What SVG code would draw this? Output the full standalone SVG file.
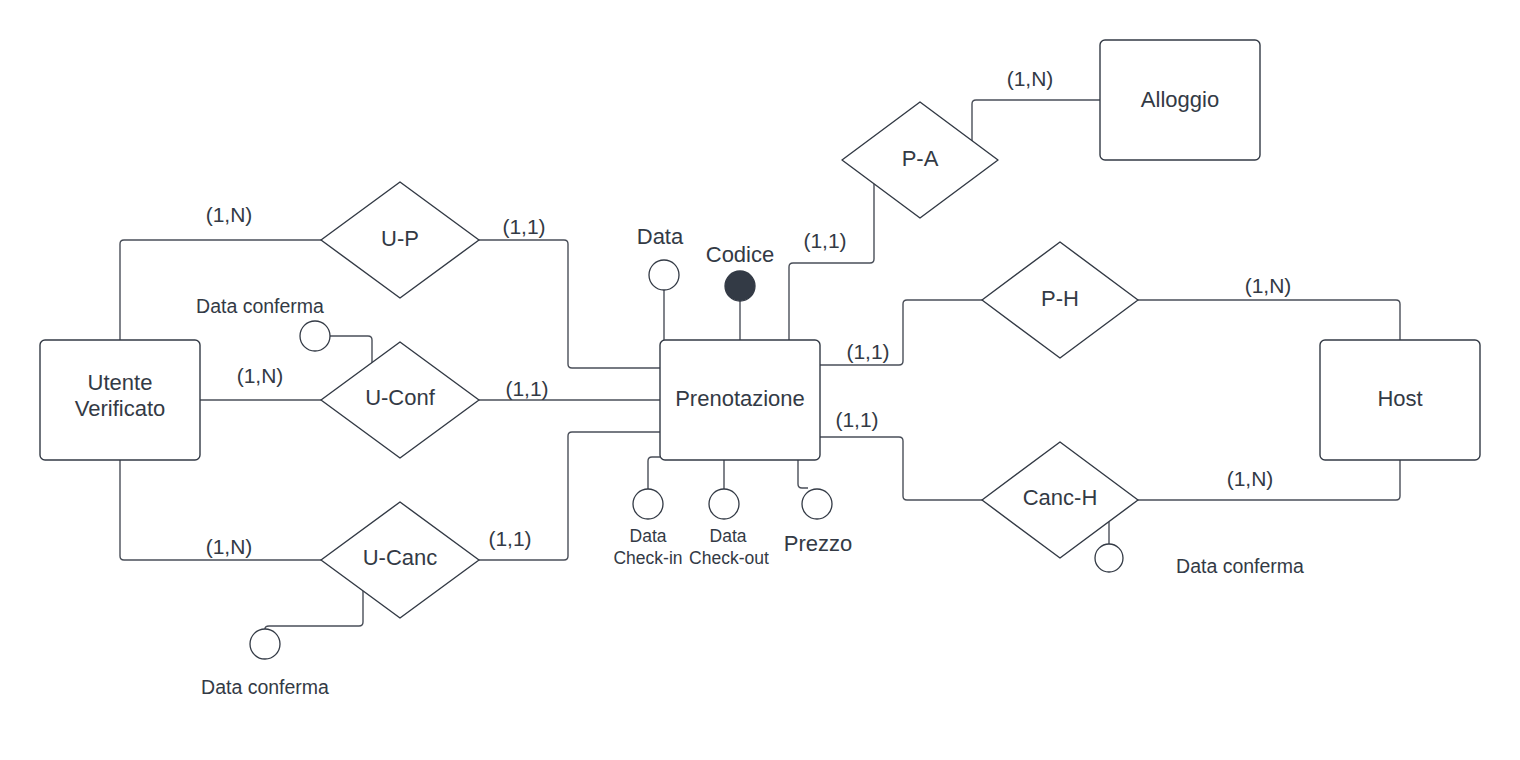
<svg xmlns="http://www.w3.org/2000/svg" width="1520" height="760" viewBox="0 0 1520 760">
<style>
.ent{fill:#ffffff;stroke:#333a45;stroke-width:1.4}
.rel{fill:#ffffff;stroke:#333a45;stroke-width:1.4;stroke-linejoin:round}
.att{fill:#ffffff;stroke:#333a45;stroke-width:1.3}
.key{fill:#333a45;stroke:#333a45;stroke-width:1.3}
.con path{fill:none;stroke:#4a4f59;stroke-width:1.4}
text{font-family:"Liberation Sans",Arial,sans-serif;fill:#333a45;text-anchor:middle}
.lbl{font-size:22px}
.card{font-size:21px}
.att-l{font-size:22px}
.dc{font-size:19.5px}
.sm{font-size:17.5px}
</style>
<rect width="1520" height="760" fill="#ffffff"/>
<g id="connectors" class="con">
<path d="M120,340 V244 Q120,240 124,240 H321"/>
<path d="M479,240 H564 Q568,240 568,244 V364 Q568,368 572,368 H660"/>
<path d="M200,400 H321"/>
<path d="M479,400 H660"/>
<path d="M120,460 V556 Q120,560 124,560 H321"/>
<path d="M479,560 H564 Q568,560 568,556 V436 Q568,432 572,432 H660"/>
<path d="M330,336 H368 Q372,336 372,340 V363"/>
<path d="M363,591 V622 Q363,626 359,626 H269 Q265,626 265,629"/>
<path d="M664,290 V340"/>
<path d="M740,301 V340"/>
<path d="M789,340 V267 Q789,263 793,263 H870 Q874,263 874,259 V184"/>
<path d="M972,141 V104 Q972,100 976,100 H1100"/>
<path d="M820,365 H899 Q903,365 903,361 V304 Q903,300 907,300 H982"/>
<path d="M1138,300 H1396 Q1400,300 1400,304 V340"/>
<path d="M820,437 H899 Q903,437 903,441 V496 Q903,500 907,500 H982"/>
<path d="M1138,500 H1396 Q1400,500 1400,496 V460"/>
<path d="M1109,522 V544"/>
<path d="M648,489 V461 Q648,457 652,457 H660"/>
<path d="M724,460 V489"/>
<path d="M798,460 V484 Q798,488 802,488 H808"/>
</g>
<g id="utente"><rect class="ent" x="40" y="340" width="160" height="120" rx="5"/><text class="lbl" x="120" y="390">Utente</text><text class="lbl" x="120" y="416">Verificato</text></g>
<g id="prenotazione"><rect class="ent" x="660" y="340" width="160" height="120" rx="5"/><text class="lbl" x="740" y="406">Prenotazione</text></g>
<g id="alloggio"><rect class="ent" x="1100" y="40" width="160" height="120" rx="5"/><text class="lbl" x="1180" y="107">Alloggio</text></g>
<g id="host"><rect class="ent" x="1320" y="340" width="160" height="120" rx="5"/><text class="lbl" x="1400" y="406">Host</text></g>
<g id="up"><polygon class="rel" points="321,240 400,182 479,240 400,298"/><text class="lbl" x="400" y="246">U-P</text></g>
<g id="uconf"><polygon class="rel" points="321,400 400,342 479,400 400,458"/><text class="lbl" x="400" y="405">U-Conf</text></g>
<g id="ucanc"><polygon class="rel" points="321,560 400,502 479,560 400,618"/><text class="lbl" x="400" y="565">U-Canc</text></g>
<g id="pa"><polygon class="rel" points="842,160 920,102 998,160 920,218"/><text class="lbl" x="920" y="166">P-A</text></g>
<g id="ph"><polygon class="rel" points="982,300 1060,242 1138,300 1060,358"/><text class="lbl" x="1060" y="306">P-H</text></g>
<g id="canch"><polygon class="rel" points="982,500 1060,442 1138,500 1060,558"/><text class="lbl" x="1060" y="505">Canc-H</text></g>
<g id="attr-uconf"><circle class="att" cx="315" cy="336" r="15"/><text class="dc" x="260" y="313">Data conferma</text></g>
<g id="attr-ucanc"><circle class="att" cx="265" cy="644" r="15"/><text class="dc" x="265" y="694">Data conferma</text></g>
<g id="attr-canch"><circle class="att" cx="1109" cy="558" r="14"/><text class="dc" x="1240" y="573">Data conferma</text></g>
<g id="attr-data"><circle class="att" cx="664" cy="275" r="15"/><text class="att-l" x="660" y="244">Data</text></g>
<g id="attr-codice"><circle class="key" cx="740" cy="286" r="15"/><text class="att-l" x="740" y="262">Codice</text></g>
<g id="attr-checkin"><circle class="att" cx="648" cy="504" r="15"/><text class="sm" x="648" y="542">Data</text><text class="sm" x="648" y="564">Check-in</text></g>
<g id="attr-checkout"><circle class="att" cx="724" cy="504" r="15"/><text class="sm" x="728" y="542">Data</text><text class="sm" x="729" y="564">Check-out</text></g>
<g id="attr-prezzo"><circle class="att" cx="817" cy="504" r="15"/><text class="att-l" x="818" y="551">Prezzo</text></g>
<g id="cardinalities">
<text class="card" x="229" y="222">(1,N)</text>
<text class="card" x="524" y="234">(1,1)</text>
<text class="card" x="260" y="383">(1,N)</text>
<text class="card" x="527" y="396">(1,1)</text>
<text class="card" x="229" y="554">(1,N)</text>
<text class="card" x="510" y="546">(1,1)</text>
<text class="card" x="825" y="248">(1,1)</text>
<text class="card" x="1030" y="86">(1,N)</text>
<text class="card" x="868" y="359">(1,1)</text>
<text class="card" x="1268" y="293">(1,N)</text>
<text class="card" x="857" y="427">(1,1)</text>
<text class="card" x="1250" y="486">(1,N)</text>
</g>
</svg>
